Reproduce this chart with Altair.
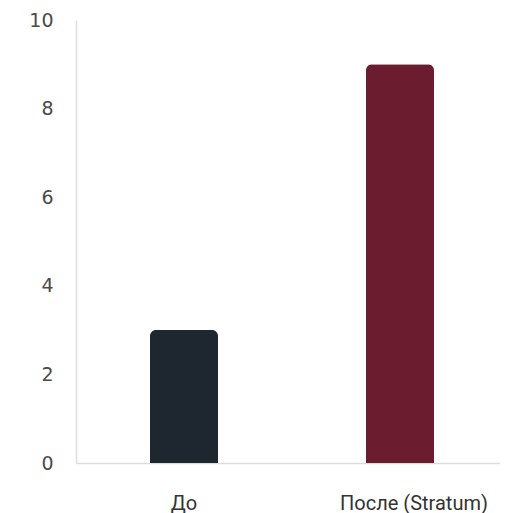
import altair as alt
import pandas as pd

categories = ["До", "После (Stratum)"]
values = [3, 9]
colors = ["#1e2630", "#6b1c2e"]

df = pd.DataFrame({"cat": categories, "val": values})

chart = alt.Chart(df).mark_bar(width=68, cornerRadiusTopLeft=6, cornerRadiusTopRight=6).encode(
    x=alt.X("cat:N", sort=categories, title=None,
            scale=alt.Scale(range=[0, 432], paddingInner=0, paddingOuter=0),
            axis=alt.Axis(labelAngle=0, labelFont="Roboto", labelFontSize=20, labelColor="#333333",
                          labelOffset={"condition": {"test": "datum.value == 'После (Stratum)'", "value": 14}, "value": 0},
                          labelPadding=30, ticks=False, domainColor="#dddddd", domainWidth=1.5)),
    y=alt.Y("val:Q", title=None, scale=alt.Scale(domain=[0, 10]),
            axis=alt.Axis(values=[0, 2, 4, 6, 8, 10], grid=False, ticks=False,
                          labelFont="DejaVu Sans", labelFontSize=19, labelColor="#4a4a4a",
                          labelPadding=23, domainColor="#dddddd", domainWidth=1.5)),
    color=alt.Color("cat:N", scale=alt.Scale(domain=categories, range=colors), legend=None),
).properties(
    width=424, height=443,
    autosize=alt.AutoSizeParams(type="none"),
    padding={"left": 68, "top": 12, "right": 0, "bottom": 50},
).configure_view(stroke=None)

chart.save("out.html", embed_options={"renderer": "svg", "actions": False})
